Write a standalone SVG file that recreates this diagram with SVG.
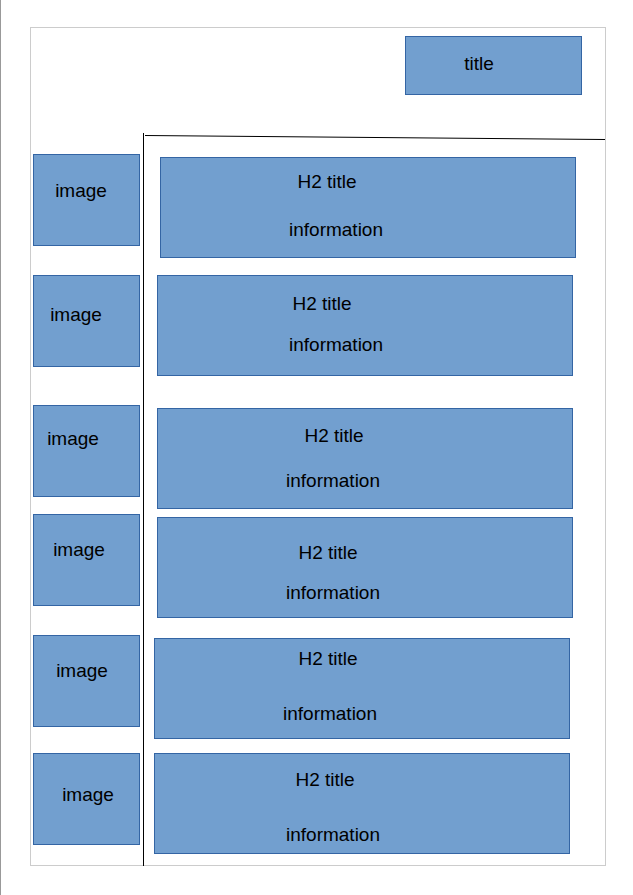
<svg xmlns="http://www.w3.org/2000/svg" width="633" height="895" viewBox="0 0 633 895">
<style>
.box{fill:#729fcf;stroke:#3465a4;stroke-width:1}
.t{font-family:"Liberation Sans",Arial,sans-serif;font-size:19px;fill:#000;text-anchor:middle}
.ln{stroke:#000;stroke-width:1;fill:none}
</style>
<rect x="0" y="0" width="633" height="895" fill="#fff"/>
<line x1="0.5" y1="0" x2="0.5" y2="895" stroke="#999" stroke-width="1"/>
<rect x="30.5" y="27.5" width="575" height="838" fill="#fff" stroke="#ccc" stroke-width="1"/>
<g id="connectors">
<line class="ln" x1="143.5" y1="133" x2="143.5" y2="866"/>
<line class="ln" x1="145" y1="135.5" x2="605" y2="139.5"/>
</g>
<g id="title"><rect class="box" x="405.5" y="36.5" width="176" height="58"/><text class="t" x="479" y="70">title</text></g>
<g id="image1"><rect class="box" x="33.5" y="154.5" width="106" height="91"/><text class="t" x="81" y="197">image</text></g>
<g id="image2"><rect class="box" x="33.5" y="275.5" width="106" height="91"/><text class="t" x="76" y="321">image</text></g>
<g id="image3"><rect class="box" x="33.5" y="405.5" width="106" height="91"/><text class="t" x="73" y="445">image</text></g>
<g id="image4"><rect class="box" x="33.5" y="514.5" width="106" height="91"/><text class="t" x="79" y="556">image</text></g>
<g id="image5"><rect class="box" x="33.5" y="635.5" width="106" height="91"/><text class="t" x="82" y="677">image</text></g>
<g id="image6"><rect class="box" x="33.5" y="753.5" width="106" height="91"/><text class="t" x="88" y="801">image</text></g>
<g id="info1"><rect class="box" x="160.5" y="157.5" width="415" height="100"/><text class="t" x="327" y="188">H2 title</text><text class="t" x="336" y="236">information</text></g>
<g id="info2"><rect class="box" x="157.5" y="275.5" width="415" height="100"/><text class="t" x="322" y="310">H2 title</text><text class="t" x="336" y="351">information</text></g>
<g id="info3"><rect class="box" x="157.5" y="408.5" width="415" height="100"/><text class="t" x="334" y="442">H2 title</text><text class="t" x="333" y="487">information</text></g>
<g id="info4"><rect class="box" x="157.5" y="517.5" width="415" height="100"/><text class="t" x="328" y="559">H2 title</text><text class="t" x="333" y="599">information</text></g>
<g id="info5"><rect class="box" x="154.5" y="638.5" width="415" height="100"/><text class="t" x="328" y="665">H2 title</text><text class="t" x="330" y="720">information</text></g>
<g id="info6"><rect class="box" x="154.5" y="753.5" width="415" height="100"/><text class="t" x="325" y="786">H2 title</text><text class="t" x="333" y="841">information</text></g>
</svg>
